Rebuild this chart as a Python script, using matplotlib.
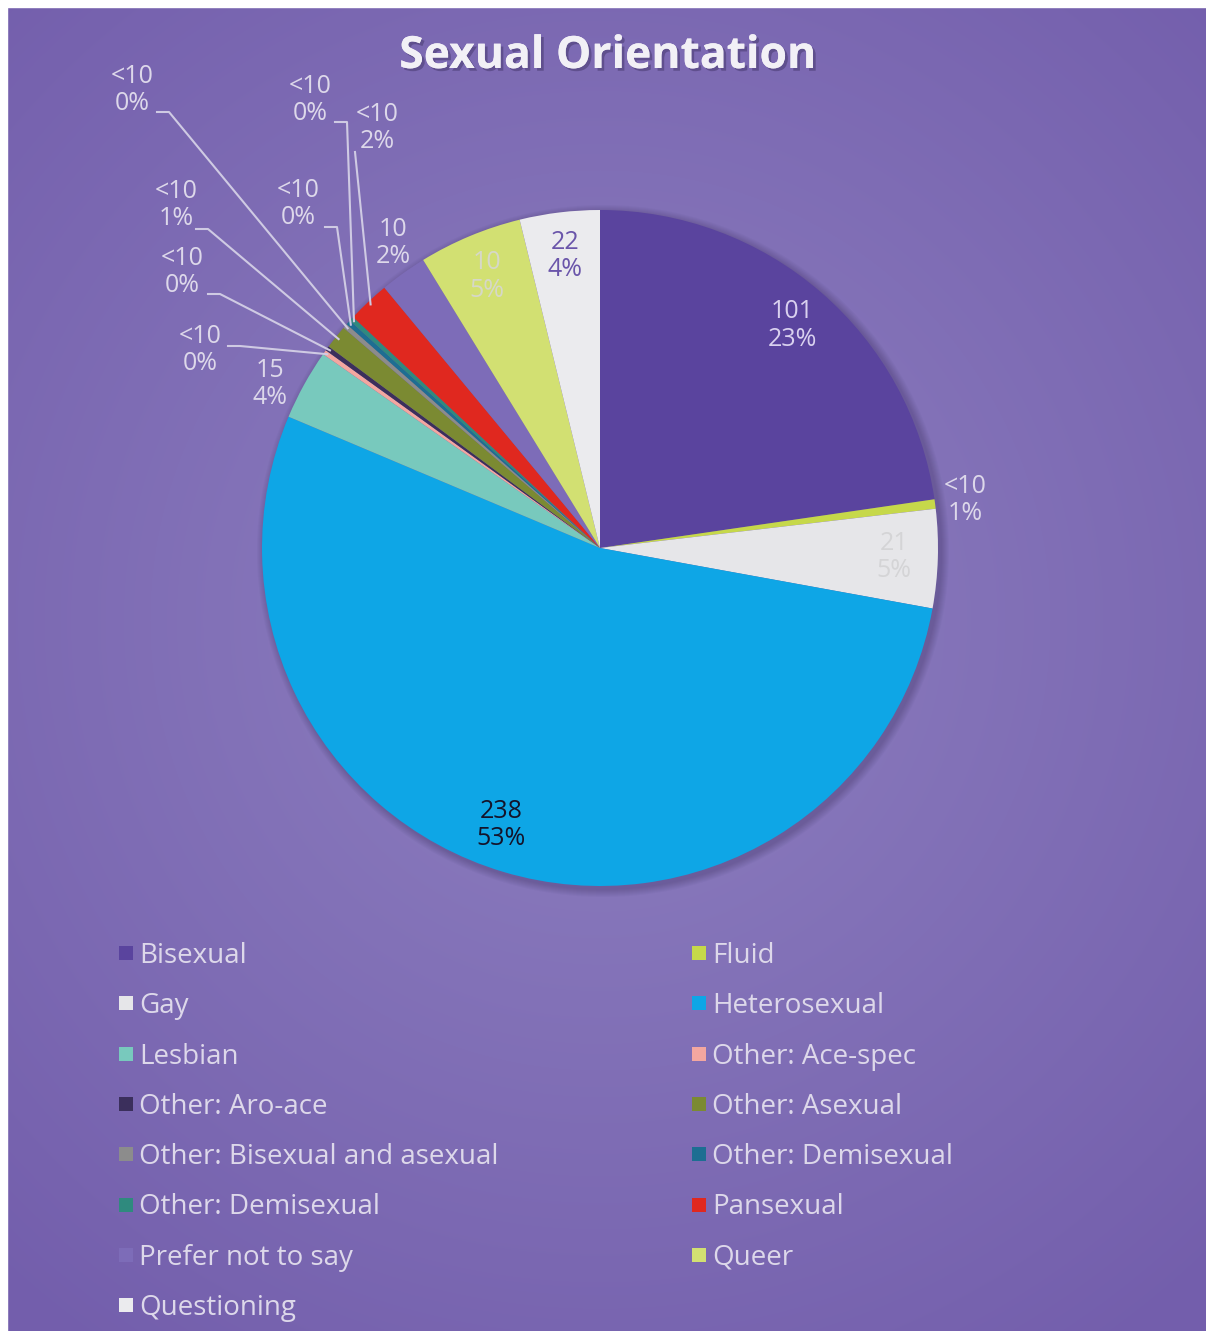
import numpy as np
import matplotlib.pyplot as plt
from matplotlib.patches import Circle, Rectangle
import matplotlib.patheffects as pe

plt.rcParams['font.family'] = ['Open Sans', 'DejaVu Sans']

W, H = 1206, 1331

# survey answers, clockwise from 12 o'clock
categories = ["Bisexual", "Fluid", "Gay", "Heterosexual", "Lesbian",
              "Other: Ace-spec", "Other: Aro-ace", "Other: Asexual",
              "Other: Bisexual and asexual", "Other: Demisexual",
              "Other: Demisexual", "Pansexual", "Prefer not to say",
              "Queer", "Questioning"]
counts = [101, 2, 21, 238, 15, 1, 1, 5, 1, 1, 1, 9, 10, 22, 17]
count_labels = ["101", "<10", "21", "238", "15", "<10", "<10", "<10", "<10",
                "<10", "<10", "<10", "10", "10", "22"]
pct_labels = ["23%", "1%", "5%", "53%", "4%", "0%", "0%", "1%", "0%", "0%",
              "0%", "2%", "2%", "5%", "4%"]

colors = ["#5a449e", "#c6d84a", "#e6e6e9", "#0ea6e6", "#78c9bd", "#f3a7a0",
          "#3b2f5c", "#7b8a32", "#8c8c8c", "#1d6e92", "#2f8a7e", "#e0281f",
          "#7d6cb8", "#d2e072", "#ebebee"]

# how each value label is placed: inside the slice, just outside, or with a leader line
label_mode = ["in", "out", "in", "in", "out", "lead", "lead", "lead", "lead",
              "lead", "lead", "lead", "out", "in", "in"]
label_color = ["#d9d1ef", "#ddd8ea", "#d4d4d6", "#14132a", "#ddd8ea", "#ddd8ea",
               "#ddd8ea", "#ddd8ea", "#ddd8ea", "#ddd8ea", "#ddd8ea", "#ddd8ea",
               "#ddd8ea", "#d6d8c8", "#6a55aa"]
# small angular nudges (degrees) for a few in/out labels
label_nudge = {3: -3.0, 4: 2.5, 12: -1.5}
# leader label text centre and where the line leaves the text (pixels from top-left)
leader_text = {5: (200, 350), 6: (182, 272), 7: (176, 205), 8: (132, 90),
               9: (298, 204), 10: (310, 100), 11: (377, 128)}
leader_start = {5: (228, 346), 6: (208, 294), 7: (196, 229), 8: (157, 112),
                9: (325, 227), 10: (335, 122), 11: (355, 152)}

CX, CY, R = 600, 548, 338
LABEL_FS = 18
LEGEND_FS = 20


def fy(py):
    # pixel row -> data y
    return H - py


fig = plt.figure(figsize=(W / 100, H / 100), dpi=100)
ax = fig.add_axes([0, 0, 1, 1])

# radial purple backdrop
yy, xx = np.mgrid[0:H, 0:W]
d = np.sqrt(((xx - 600) / 900) ** 2 + ((yy - 620) / 900) ** 2)
d = np.clip(d, 0, 1)
inner = np.array([0x8e, 0x80, 0xc0]) / 255
outer = np.array([0x73, 0x5e, 0xac]) / 255
bg = inner[None, None, :] * (1 - d[..., None]) + outer[None, None, :] * d[..., None]
ax.imshow(bg, extent=(0, W, 0, H), origin='upper', aspect='auto', zorder=0)
ax.add_patch(Rectangle((0, 0), 7, H, color='white', zorder=1))
ax.add_patch(Rectangle((0, H - 7), W, 7, color='white', zorder=1))

# soft drop shadow behind the pie
for k in range(8):
    ax.add_patch(Circle((CX + 3, fy(CY) - 3), R + 1 + k, color='#2a1f4a',
                        alpha=0.035, lw=0, zorder=2))

wedges, _ = ax.pie(counts, colors=colors, startangle=90, counterclock=False,
                   center=(CX, fy(CY)), radius=R,
                   wedgeprops=dict(linewidth=0, zorder=3))
for w in wedges:
    w.set_zorder(3)

for i, w in enumerate(wedges):
    mid = np.deg2rad((w.theta1 + w.theta2) / 2 + label_nudge.get(i, 0))
    text = count_labels[i] + "\n" + pct_labels[i]
    if label_mode[i] == "lead":
        tx, ty = leader_text[i]
        sx, sy = leader_start[i]
        ex = CX + R * 0.99 * np.cos(mid)
        ey = fy(CY) + R * 0.99 * np.sin(mid)
        if i == 11:
            xs, ys = [sx, ex], [fy(sy), ey]
        else:
            xs, ys = [sx, sx + 12, ex], [fy(sy), fy(sy), ey]
        ax.plot(xs, ys, color='#cfcae3', lw=1.5, zorder=4)
        ax.text(tx, fy(ty), text, ha='center', va='center', fontsize=LABEL_FS,
                color=label_color[i], linespacing=1.12, zorder=5)
    else:
        rf = 0.87 if label_mode[i] == "in" else 1.09
        ax.text(CX + rf * R * np.cos(mid), fy(CY) + rf * R * np.sin(mid), text,
                ha='center', va='center', fontsize=LABEL_FS,
                color=label_color[i], linespacing=1.12, zorder=5)

# title with a light drop shadow
ax.text(608, fy(68), "Sexual Orientation", ha='center', va='baseline',
        fontsize=32, fontweight='bold', color='#f2f0f6', zorder=6,
        path_effects=[pe.withSimplePatchShadow(offset=(2, -2), alpha=0.35,
                                               shadow_rgbFace='#2a1f4a'),
                      pe.Normal()])

# two-column legend, filled row by row
for i, name in enumerate(categories):
    row, col = divmod(i, 2)
    yc = 953 + 50.3 * row
    mx = 119 if col == 0 else 692
    ax.add_patch(Rectangle((mx, fy(yc + 7)), 14, 14, color=colors[i], lw=0,
                           zorder=5))
    ax.text(mx + 20, fy(yc + 10), name, ha='left', va='baseline',
            fontsize=LEGEND_FS, color='#ddd8ea', zorder=5)

ax.set_xlim(0, W)
ax.set_ylim(0, H)
ax.axis('off')

fig.savefig("out.png", dpi=100)
